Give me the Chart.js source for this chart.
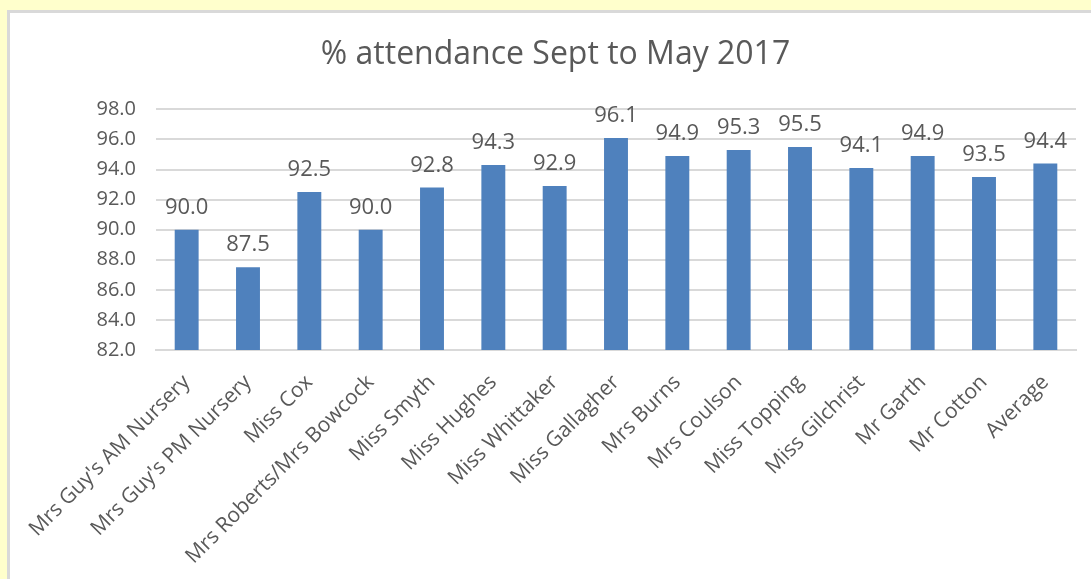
<!DOCTYPE html>
<html>
<head>
<meta charset="utf-8">
<script src="https://cdn.jsdelivr.net/npm/chart.js@4.4.1/dist/chart.umd.min.js"></script>
<style>
  html, body { margin: 0; padding: 0; background: #FFFFCC; overflow: hidden; }
  #panel {
    position: absolute; left: 7px; top: 10px; right: 0; bottom: 0;
    background: #fff; border-left: 3px solid #D9D9D9; border-top: 3px solid #D9D9D9;
  }
  #wrap { position: relative; width: 1081px; height: 566px; }
</style>
</head>
<body>
<div id="panel"><div id="wrap"><canvas id="attendanceChart"></canvas></div></div>
<script>
// Classes and their attendance (%), Sept to May 2017
const classLabels = [
  "Mrs Guy's AM Nursery", "Mrs Guy's PM Nursery", "Miss Cox", "Mrs Roberts/Mrs Bowcock",
  "Miss Smyth", "Miss Hughes", "Miss Whittaker", "Miss Gallagher", "Mrs Burns",
  "Mrs Coulson", "Miss Topping", "Miss Gilchrist", "Mr Garth", "Mr Cotton", "Average"
];
const attendanceData = [90.0, 87.5, 92.5, 90.0, 92.8, 94.3, 92.9, 96.1, 94.9, 95.3, 95.5, 94.1, 94.9, 93.5, 94.4];
const yTicks = [82, 84, 86, 88, 90, 92, 94, 96, 98];

const textColor = '#595959';
const fontFamily = "'Open Sans', sans-serif";

// values above bars
const barValues = {
  id: 'barValues',
  afterDatasetsDraw(chart) {
    const ctx = chart.ctx;
    const meta = chart.getDatasetMeta(0);
    ctx.save();
    ctx.fillStyle = textColor;
    ctx.font = "22px " + fontFamily;
    ctx.textAlign = 'center';
    ctx.textBaseline = 'alphabetic';
    meta.data.forEach((bar, i) => {
      ctx.fillText(attendanceData[i].toFixed(1), bar.x, bar.y - 16);
    });
    ctx.restore();
  }
};

const ctx = document.getElementById("attendanceChart").getContext("2d");
new Chart(ctx, {
  type: 'bar',
  data: {
    labels: classLabels,
    datasets: [{
      label: '% attendance',
      data: attendanceData,
      backgroundColor: '#4F81BD',
      barPercentage: 0.39,
      categoryPercentage: 1.0
    }]
  },
  options: {
    responsive: true,
    maintainAspectRatio: false,
    animation: false,
    layout: { padding: { left: 25, right: 15, top: 0, bottom: 0 } },
    plugins: {
      legend: { display: false },
      tooltip: { enabled: false },
      title: {
        display: true,
        text: '% attendance Sept to May 2017',
        color: textColor,
        font: { family: fontFamily, size: 32, weight: 'normal' },
        padding: { top: 23, bottom: 35 }
      }
    },
    scales: {
      x: {
        grid: { display: false },
        border: { display: true, color: '#D9D9D9', width: 2 },
        ticks: {
          color: textColor,
          font: { family: fontFamily, size: 21 },
          maxRotation: 45, minRotation: 45,
          autoSkip: false,
          padding: 12
        },
        afterFit(scale) { scale.height = 229; }
      },
      y: {
        min: 82, max: 98,
        afterBuildTicks(scale) { scale.ticks = yTicks.map(v => ({ value: v })); },
        grid: { color: '#D9D9D9', lineWidth: 2, drawTicks: false },
        border: { display: false },
        ticks: {
          color: textColor,
          font: { family: fontFamily, size: 20 },
          padding: 20,
          callback: value => value.toFixed(1)
        },
        afterFit(scale) { scale.width = 121; }
      }
    }
  },
  plugins: [barValues]
});
</script>
</body>
</html>
